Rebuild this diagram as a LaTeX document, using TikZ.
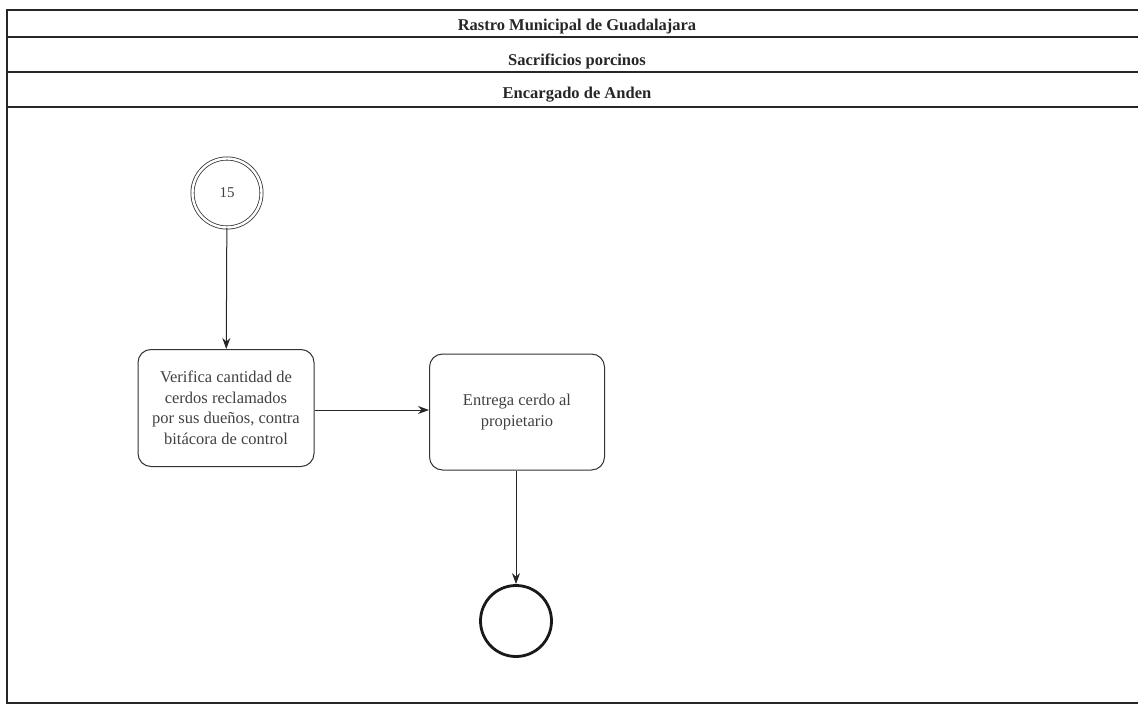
\documentclass[tikz,border=0pt]{standalone}
\usepackage{fontspec}
\setmainfont{Liberation Serif}
\usetikzlibrary{arrows.meta}
\begin{document}
\begin{tikzpicture}[x=1pt,y=-1pt,
  frameline/.style={line width=1.3pt,draw=black!85},
  header/.style={font=\fontsize{16.5}{18}\selectfont\bfseries,text=black!85,inner sep=0pt},
  startev/.style={circle,draw=black!80,double,double distance=2.4pt,line width=0.8pt,minimum size=69pt,inner sep=0pt,font=\fontsize{15}{17}\selectfont,text=black!75},
  endev/.style={circle,draw=black!90,line width=2.8pt,minimum size=71pt,inner sep=0pt},
  task/.style={draw=black!80,line width=1pt,rounded corners=13pt,align=center,inner sep=2pt,font=\fontsize{16.5}{20.5}\selectfont,text=black!75},
  flow/.style={-{Stealth[length=11pt,width=8pt]},line width=1pt,draw=black!85}
]
\useasboundingbox (0,0) rectangle (1138,711);
% pool frame
\draw[frameline] (1138,10) -- (7,10) -- (7,703) -- (1138,703);
\draw[frameline] (7,37) -- (1138,37);
\draw[frameline] (7,72) -- (1138,72);
\draw[frameline] (7,107) -- (1138,107);
\node[header] (h1) at (577,27) {Rastro Municipal de Guadalajara};
\node[header] (h2) at (577,61) {Sacrificios porcinos};
\node[header] (h3) at (577,95) {Encargado de Anden};
% nodes
\node[startev] (s) at (227,193) {15};
\node[task,minimum width=176pt,minimum height=117pt] (t1) at (226,408) {Verifica cantidad de\\cerdos reclamados\\por sus dueños, contra\\bitácora de control};
\node[task,minimum width=175pt,minimum height=116pt] (t2) at (517,412) {Entrega cerdo al\\propietario};
\node[endev] (e) at (516,621) {};
% flows
\draw[flow] (s) -- (t1);
\draw[flow] (t1.east |- 0,410) -- (t2.west |- 0,410);
\draw[flow] (t2.south -| e.north) -- (e.north);
\end{tikzpicture}
\end{document}
